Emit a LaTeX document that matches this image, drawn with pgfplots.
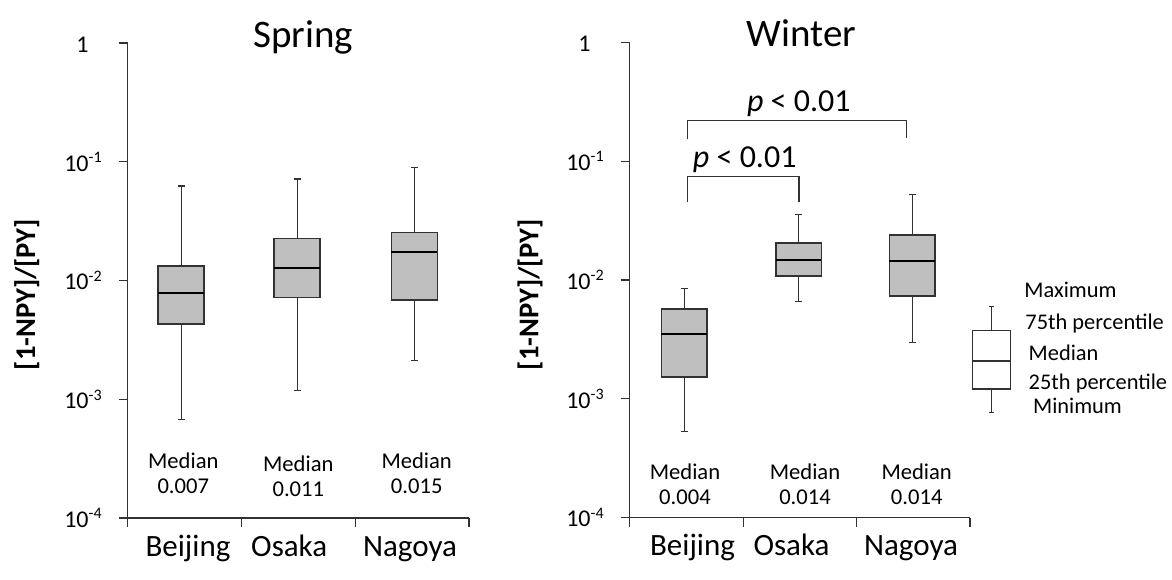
\documentclass[border=0pt]{standalone}
\usepackage{pgfplots}
\pgfplotsset{compat=1.18}
\usepackage{fontspec}
\setmainfont{Carlito}
\definecolor{boxgray}{RGB}{191,191,191}
\definecolor{edge}{RGB}{50,50,50}
\newcommand{\fs}[1]{\fontsize{#1}{1.15\dimexpr#1\relax}\selectfont}
\pgfplotsset{
  wh/.style={edge, line width=0.6pt, mark=none},
  bxs/.style={fill=boxgray, draw=edge, line width=0.8pt, mark=none},
  md/.style={black, line width=0.8pt, mark=none},
}
\begin{document}
\begin{tikzpicture}
% ---------------- Spring ----------------
\begin{axis}[at={(63.85pt,-259pt)}, anchor=south west, width=170.65pt, height=237.5pt,
    scale only axis, ymode=log, ymin=1e-4, ymax=1, xmin=0.5, xmax=3.5,
    axis lines*=left, clip=false,
    xtick={0.5,1.5,2.5,3.5}, xticklabels={},
    ytick={1e-4,1e-3,1e-2,1e-1,1},
    yticklabels={10\textsuperscript{-4},10\textsuperscript{-3},10\textsuperscript{-2},10\textsuperscript{-1},1\phantom{\textsuperscript{-1}}},
    yminorticks=false,
    tick align=outside, major tick length=4.5pt,
    axis line style={edge, line width=0.6pt},
    tick style={edge, line width=0.6pt},
    yticklabel style={font=\fs{12pt}, anchor=east, xshift=-4.5pt}]
% Beijing
\addplot[wh] coordinates {(0.97,0.000671) (0.97,0.0043)};
\addplot[wh] coordinates {(0.97,0.0132) (0.97,0.0624)};
\addplot[wh] coordinates {(0.94,0.000671) (1.00,0.000671)};
\addplot[wh] coordinates {(0.94,0.0624) (1.00,0.0624)};
\addplot[bxs] coordinates {(0.768,0.0043) (1.172,0.0043) (1.172,0.0132) (0.768,0.0132)} -- cycle;
\addplot[md] coordinates {(0.768,0.00787) (1.172,0.00787)};
% Osaka
\addplot[wh] coordinates {(1.99,0.00119) (1.99,0.00719)};
\addplot[wh] coordinates {(1.99,0.02254) (1.99,0.0716)};
\addplot[wh] coordinates {(1.96,0.00119) (2.02,0.00119)};
\addplot[wh] coordinates {(1.96,0.0716) (2.02,0.0716)};
\addplot[bxs] coordinates {(1.788,0.00719) (2.192,0.00719) (2.192,0.02254) (1.788,0.02254)} -- cycle;
\addplot[md] coordinates {(1.788,0.0128) (2.192,0.0128)};
% Nagoya
\addplot[wh] coordinates {(3.02,0.00212) (3.02,0.00689)};
\addplot[wh] coordinates {(3.02,0.0253) (3.02,0.0897)};
\addplot[wh] coordinates {(2.99,0.00212) (3.05,0.00212)};
\addplot[wh] coordinates {(2.99,0.0897) (3.05,0.0897)};
\addplot[bxs] coordinates {(2.818,0.00689) (3.222,0.00689) (3.222,0.0253) (2.818,0.0253)} -- cycle;
\addplot[md] coordinates {(2.818,0.0174) (3.222,0.0174)};
\end{axis}
% ---------------- Winter ----------------
\begin{axis}[at={(314.85pt,-258.75pt)}, anchor=south west, width=170.15pt, height=237.6pt,
    scale only axis, ymode=log, ymin=1e-4, ymax=1, xmin=0.5, xmax=3.5,
    axis lines*=left, clip=false,
    xtick={0.5,1.5,2.5,3.5}, xticklabels={},
    ytick={1e-4,1e-3,1e-2,1e-1,1},
    yticklabels={10\textsuperscript{-4},10\textsuperscript{-3},10\textsuperscript{-2},10\textsuperscript{-1},1\phantom{\textsuperscript{-1}}},
    yminorticks=false,
    tick align=outside, major tick length=4.5pt,
    axis line style={edge, line width=0.6pt},
    tick style={edge, line width=0.6pt},
    yticklabel style={font=\fs{12pt}, anchor=east, xshift=-4.5pt}]
% Beijing
\addplot[wh] coordinates {(0.98,0.000531) (0.98,0.00153)};
\addplot[wh] coordinates {(0.98,0.00572) (0.98,0.00844)};
\addplot[wh] coordinates {(0.95,0.000531) (1.01,0.000531)};
\addplot[wh] coordinates {(0.95,0.00844) (1.01,0.00844)};
\addplot[bxs] coordinates {(0.78,0.00153) (1.18,0.00153) (1.18,0.00572) (0.78,0.00572)} -- cycle;
\addplot[md] coordinates {(0.78,0.00352) (1.18,0.00352)};
% Osaka
\addplot[wh] coordinates {(1.99,0.00656) (1.99,0.01074)};
\addplot[wh] coordinates {(1.99,0.0204) (1.99,0.0355)};
\addplot[wh] coordinates {(1.96,0.00656) (2.02,0.00656)};
\addplot[wh] coordinates {(1.96,0.0355) (2.02,0.0355)};
\addplot[bxs] coordinates {(1.79,0.01074) (2.19,0.01074) (2.19,0.0204) (1.79,0.0204)} -- cycle;
\addplot[md] coordinates {(1.79,0.0147) (2.19,0.0147)};
% Nagoya
\addplot[wh] coordinates {(2.99,0.00297) (2.99,0.00735)};
\addplot[wh] coordinates {(2.99,0.0239) (2.99,0.0522)};
\addplot[wh] coordinates {(2.96,0.00297) (3.02,0.00297)};
\addplot[wh] coordinates {(2.96,0.0522) (3.02,0.0522)};
\addplot[bxs] coordinates {(2.79,0.00735) (3.19,0.00735) (3.19,0.0239) (2.79,0.0239)} -- cycle;
\addplot[md] coordinates {(2.79,0.01435) (3.19,0.01435)};
% key box
\addplot[wh] coordinates {(3.688,0.00077) (3.688,0.001208)};
\addplot[wh] coordinates {(3.688,0.00378) (3.688,0.00594)};
\addplot[wh] coordinates {(3.668,0.00077) (3.708,0.00077)};
\addplot[wh] coordinates {(3.668,0.00594) (3.708,0.00594)};
\addplot[bxs, fill=white, line width=0.6pt] coordinates {(3.522,0.001208) (3.854,0.001208) (3.854,0.00378) (3.522,0.00378)} -- cycle;
\addplot[wh] coordinates {(3.522,0.002075) (3.854,0.002075)};
\end{axis}
% titles
\node[anchor=base, font=\fs{19.5pt}] at (151.5pt,-23.5pt) {Spring};
\node[anchor=base, font=\fs{19.5pt}] at (400.85pt,-23.35pt) {Winter};
% y labels
\node[rotate=90, font=\bfseries\fs{14.3pt}] at (13.35pt,-147.3pt) {[1-NPY]/[PY]};
\node[rotate=90, font=\bfseries\fs{14.3pt}] at (265pt,-147.3pt) {[1-NPY]/[PY]};
% category labels
\foreach \x/\t in {94/Beijing, 144.6/Osaka, 205/Nagoya}
  \node[anchor=base, font=\fs{15.5pt}] at (\x pt,-278.35pt) {\t};
\foreach \x/\t in {346.25/Beijing, 395.75/Osaka, 455.5/Nagoya}
  \node[anchor=base, font=\fs{15.5pt}] at (\x pt,-277.5pt) {\t};
% median notes
\foreach \x/\y/\v in {91.65/-234.15/0.007, 149.15/-235.85/0.011, 208.35/-234.15/0.015, 342.5/-239.65/0.004, 402.5/-239.65/0.014, 458.35/-239.65/0.014}{
  \node[anchor=base, font=\fs{11.3pt}] at (\x pt,\y pt) {Median};
  \node[anchor=base, font=\fs{11.3pt}] at (\x pt,\y pt-12.5pt) {\v};
}
% significance brackets
\draw[edge, line width=0.6pt] (343.85pt,-69.65pt) -- (343.85pt,-60.35pt) -- (453.35pt,-60.35pt) -- (453.35pt,-69.15pt);
\draw[edge, line width=0.6pt] (343.65pt,-101.15pt) -- (343.65pt,-88.35pt) -- (399.5pt,-88.35pt) -- (399.5pt,-101.15pt);
\node[anchor=base, font=\fs{16pt}] at (399.4pt,-55.85pt) {\textit{p} < 0.01};
\node[anchor=base, font=\fs{16pt}] at (372.35pt,-83.85pt) {\textit{p} < 0.01};
% key texts
\node[anchor=base west, inner sep=0pt, font=\fs{11.2pt}] at (512pt,-148.65pt) {Maximum};
\node[anchor=base west, inner sep=0pt, font=\fs{11.2pt}] at (512.5pt,-164.65pt) {75th percentile};
\node[anchor=base west, inner sep=0pt, font=\fs{11.2pt}] at (514.15pt,-180pt) {Median};
\node[anchor=base west, inner sep=0pt, font=\fs{11.2pt}] at (514.15pt,-194.5pt) {25th percentile};
\node[anchor=base west, inner sep=0pt, font=\fs{11.2pt}] at (516.35pt,-206.65pt) {Minimum};
\pgfresetboundingbox
\path[use as bounding box] (0,0) rectangle (586pt,-289.5pt);
\end{tikzpicture}
\end{document}
